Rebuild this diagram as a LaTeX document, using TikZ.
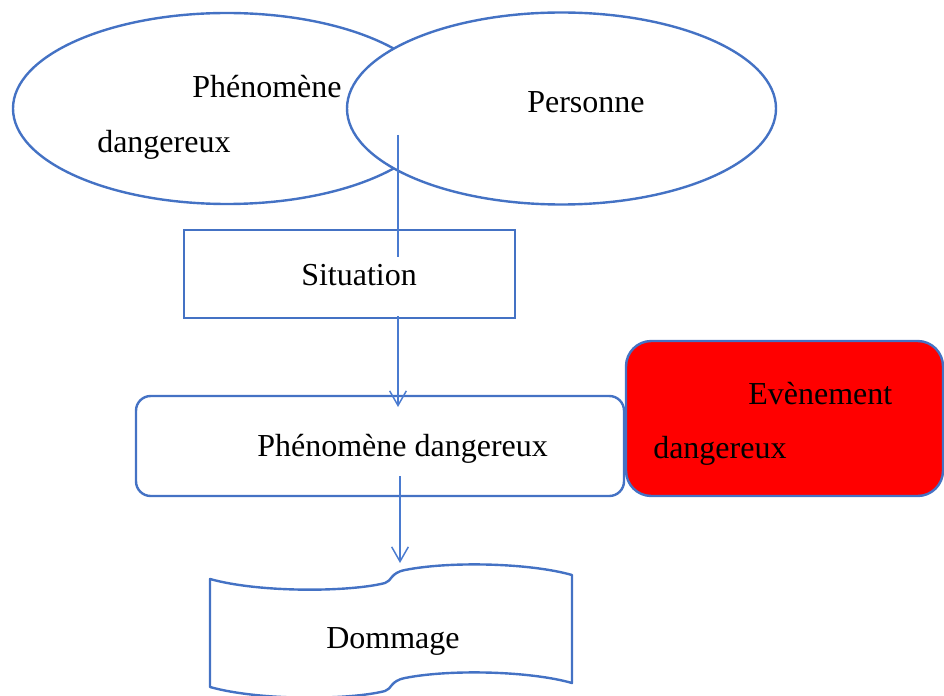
\documentclass[tikz,border=0pt]{standalone}
\usepackage{fontspec}
\setmainfont{Liberation Serif}
\usetikzlibrary{shapes.geometric,arrows.meta}
\definecolor{wblue}{HTML}{4472C4}
\definecolor{ablue}{HTML}{4A7BD0}
\definecolor{wred}{HTML}{FF0000}
\begin{document}
\begin{tikzpicture}[x=0.75pt,y=-0.75pt,
  shapeline/.style={draw=wblue,line width=1.8pt},
  ell/.style={shapeline,ellipse,inner sep=0pt,outer sep=0pt},
  box/.style={shapeline,rectangle,inner sep=0pt,outer sep=0pt},
  lbl/.style={anchor=base west,inner sep=0pt,font=\fontsize{24}{28}\selectfont},
  conn/.style={draw=ablue,line width=1.1pt,-{Straight Barb[length=11pt,width=12.5pt,line width=1.1pt]}}]
\useasboundingbox (0,0) rectangle (944,695);
% ellipses
\node[ell,minimum width=321pt,minimum height=143.25pt] (e1) at (227,108.5) {};
\node[ell,fill=white,minimum width=321.75pt,minimum height=144pt] (e2) at (561.5,108.5) {};
\node[lbl] (t1a) at (192,98) {Phénomène};
\node[lbl] (t1b) at (97,153) {dangereux};
\node[lbl] (t2) at (527,113) {Personne};
% situation
\node[box,minimum width=248.25pt,minimum height=66pt] (sit) at (349.5,274) {};
\coordinate (a1s) at (398,135);
\coordinate (a1e) at (398,407);
\node[box,rounded corners=11pt,minimum width=366pt,minimum height=75pt] (phd) at (380,446) {};
\draw[conn] (a1s) -- (a1e);
\node[lbl,fill=white,text height=21pt,text depth=23.25pt] (sittxt) at (301,285) {Situation};
\node[lbl] (phdtxt) at (257,456) {Phénomène dangereux};
% red box
\node[box,fill=wred,rounded corners=19pt,minimum width=237.75pt,minimum height=116.25pt] (ev) at (784.5,418.5) {};
\node[lbl] (eva) at (748,404) {Evènement};
\node[lbl] (evb) at (653,458) {dangereux};
% arrow 2
\coordinate (a2s) at (400,476);
\coordinate (a2e) at (400,563);
\draw[conn] (a2s) -- (a2e);
% dommage
\draw[shapeline,line join=round]
  (210,579) .. controls (260,593) and (350,592) .. (385,583)
  .. controls (392,581) and (390,573) .. (405,570)
  .. controls (450,561) and (530,563) .. (572,575)
  -- (572,683)
  .. controls (530,671) and (450,669) .. (405,678)
  .. controls (390,681) and (392,689) .. (385,691)
  .. controls (350,700) and (260,701) .. (210,687) -- cycle;
\node[lbl] (dom) at (326,648) {Dommage};
\end{tikzpicture}
\end{document}
